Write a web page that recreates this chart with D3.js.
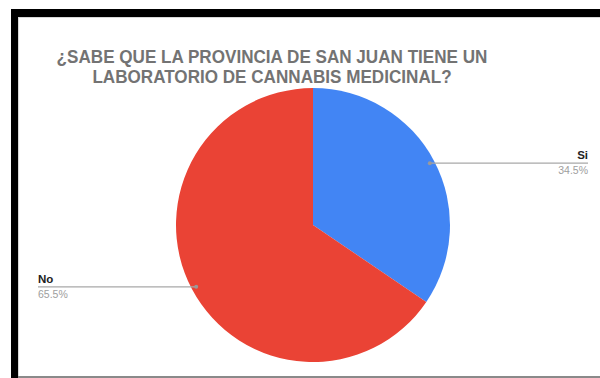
<!DOCTYPE html>
<html>
<head>
<meta charset="utf-8">
<script src="https://cdn.jsdelivr.net/npm/d3@7"></script>
<style>
  html, body { margin: 0; padding: 0; background: #fff; }
  svg { display: block; }
</style>
</head>
<body>
<svg id="chart" width="600" height="378"></svg>
<script>
// Survey answers and their shares (%)
const categories = ["Si", "No"];
const values = [34.5, 65.5];
const colors = ["#4285F4", "#EA4335"];
const titleLines = ["¿SABE QUE LA PROVINCIA DE SAN JUAN TIENE UN", "LABORATORIO DE CANNABIS MEDICINAL?"];

const svg = d3.select("#chart");
const W = 600, H = 378;

// frame: thick dark border on top/left, thin grey line at bottom
svg.append("rect").attr("x", 0).attr("y", 0).attr("width", W).attr("height", H).attr("fill", "#fff");
svg.append("rect").attr("x", 11).attr("y", 9).attr("width", W - 11).attr("height", 8).attr("fill", "#000");
svg.append("rect").attr("x", 11).attr("y", 9).attr("width", 7).attr("height", H - 9).attr("fill", "#000");
svg.append("line").attr("x1", 18).attr("x2", W).attr("y1", 17.5).attr("y2", 17.5).attr("stroke", "#d8d8d8");
svg.append("line").attr("x1", 18.5).attr("x2", 18.5).attr("y1", 17).attr("y2", H).attr("stroke", "#d8d8d8");
svg.append("line").attr("x1", 18).attr("x2", W).attr("y1", 377).attr("y2", 377).attr("stroke", "#8a8a8a").attr("stroke-width", 2);

// title: two centred lines, slightly condensed
const titleG = svg.append("g").attr("transform", "translate(272,0) scale(0.95,1)");
titleG.selectAll("text").data(titleLines).join("text")
  .attr("x", 0).attr("y", (d, i) => 63 + i * 20)
  .attr("text-anchor", "middle")
  .attr("font-family", "Liberation Sans, Arial, sans-serif")
  .attr("font-weight", "bold").attr("font-size", 18)
  .attr("fill", "#737373")
  .text(d => d);

// pie
const cx = 313, cy = 225, R = 137;
const data = categories.map((c, i) => ({ cat: c, value: values[i], color: colors[i] }));
const pie = d3.pie().value(d => d.value).sort(null);
const arcs = pie(data);
const arc = d3.arc().innerRadius(0).outerRadius(R);
const g = svg.append("g").attr("transform", `translate(${cx},${cy})`);
g.selectAll("path").data(arcs).join("path")
  .attr("d", arc)
  .attr("fill", d => d.data.color);

// leader lines and labels
const dotR = R * 0.965;
const labelX = { "Si": 588, "No": 38 };
arcs.forEach(a => {
  const mid = (a.startAngle + a.endAngle) / 2;
  const px = cx + dotR * Math.sin(mid);
  const py = cy - dotR * Math.cos(mid);
  const right = Math.sin(mid) > 0;
  const lx = labelX[a.data.cat];
  svg.append("line")
    .attr("x1", px).attr("y1", py).attr("x2", lx).attr("y2", py)
    .attr("stroke", "#a8a8a8").attr("stroke-width", 1.2);
  svg.append("circle").attr("cx", px).attr("cy", py).attr("r", 2).attr("fill", "#9a9a9a");
  const anchor = right ? "end" : "start";
  svg.append("text")
    .attr("x", lx).attr("y", py - 4)
    .attr("text-anchor", anchor)
    .attr("font-family", "Liberation Sans, Arial, sans-serif")
    .attr("font-weight", "bold").attr("font-size", 11.5)
    .attr("fill", "#222")
    .text(a.data.cat);
  svg.append("text")
    .attr("x", lx).attr("y", py + 11)
    .attr("text-anchor", anchor)
    .attr("font-family", "Liberation Sans, Arial, sans-serif")
    .attr("font-size", 10.5)
    .attr("fill", "#9e9e9e")
    .text(d3.format(".1f")(a.data.value) + "%");
});
</script>
</body>
</html>
